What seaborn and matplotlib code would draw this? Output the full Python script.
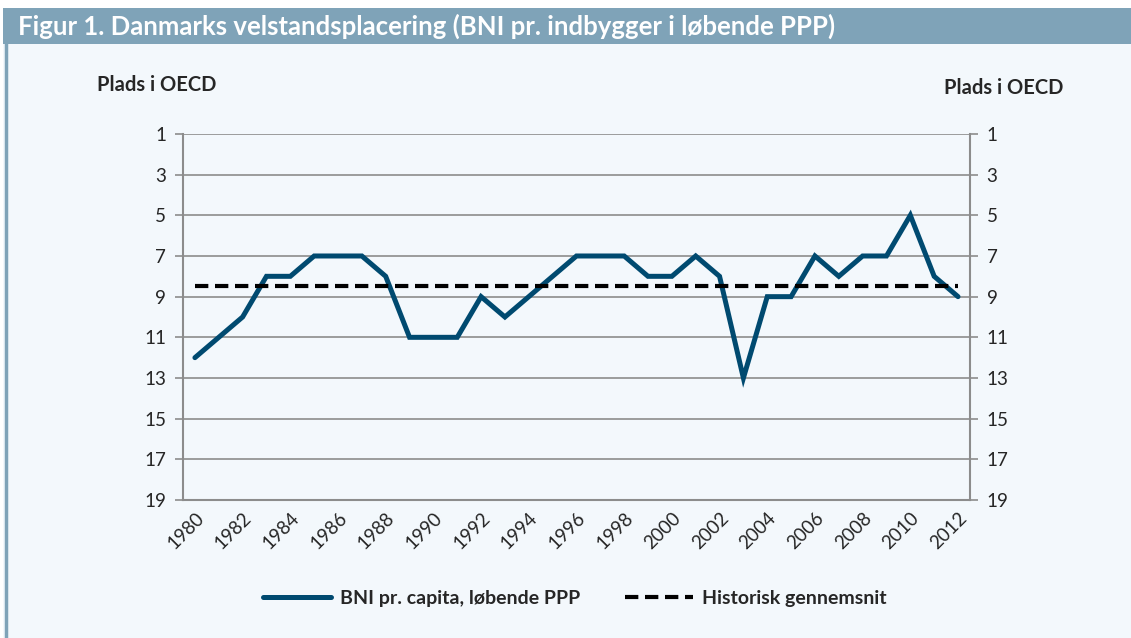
import matplotlib
matplotlib.use("Agg")
import matplotlib.pyplot as plt
from matplotlib.lines import Line2D
from matplotlib.patches import Rectangle
import pandas as pd
import seaborn as sns

# data
years = list(range(1980, 2013))
rank = [12, 11, 10, 8, 8, 7, 7, 7, 8, 11, 11, 11, 9, 10, 9, 8,
        7, 7, 7, 8, 8, 7, 8, 13, 9, 9, 7, 8, 7, 7, 5, 8, 9]
avg_rank = 8.5
yticks = [1, 3, 5, 7, 9, 11, 13, 15, 17, 19]
xticks = list(range(1980, 2013, 2))

title = "Figur 1. Danmarks velstandsplacering (BNI pr. indbygger i løbende PPP)"
ylabel = "Plads i OECD"
label_line = "BNI pr. capita, løbende PPP"
label_avg = "Historisk gennemsnit"

BAR = "#7fa3b8"
PANEL = "#f3f8fc"
LINE = "#004a70"
GRID = "#8c8c8c"

df = pd.DataFrame({"year": years, "rank": rank})

sns.set_theme(style="white")
plt.rcParams["font.family"] = ["Lato", "DejaVu Sans"]

fig = plt.figure(figsize=(11.31, 6.38), dpi=100)
fig.patch.set_facecolor("white")

# panel background + header bar
fig.add_artist(Rectangle((0.003, 0), 0.997, 0.932, transform=fig.transFigure,
                         facecolor=PANEL, edgecolor="none", zorder=-3))
fig.add_artist(Rectangle((0.003, 0.931), 0.997, 0.057, transform=fig.transFigure,
                         facecolor=BAR, edgecolor="none", zorder=-2))
fig.add_artist(Line2D([0.005, 0.005], [0, 0.94], transform=fig.transFigure,
                      color=BAR, lw=2.5, zorder=-1))
fig.text(0.016, 0.958, title, color="white", fontsize=18.5, fontweight="bold",
         va="center", ha="left")

ax = fig.add_axes([0.1618, 0.2163, 0.6958, 0.5737])
ax.set_facecolor(PANEL)

sns.lineplot(data=df, x="year", y="rank", ax=ax, color=LINE, lw=3.6,
             solid_capstyle="round", solid_joinstyle="miter")
ax.hlines(avg_rank, years[0], years[-1], colors="black", lw=3,
          linestyles=(0, (3.2, 1.6)), zorder=3)

ax.set_xlim(1979.5, 2012.5)
ax.set_ylim(19, 1)
ax.set_yticks(yticks)
ax.set_xticks(xticks)
ax.set_xticklabels([str(y) for y in xticks], rotation=45, ha="right",
                   rotation_mode="anchor", fontsize=13.5)
ax.set_xlabel("")
ax.set_ylabel("")
ax.yaxis.grid(True, color=GRID, lw=1.2)
ax.set_axisbelow(True)

for side in ["left", "right", "bottom"]:
    ax.spines[side].set_color(GRID)
    ax.spines[side].set_linewidth(1.5)
ax.spines["top"].set_visible(False)

ax.tick_params(axis="y", which="both", left=True, right=True, labelleft=True,
               labelright=True, length=6, width=1.2, color=GRID,
               labelsize=13.5, pad=6)
ax.tick_params(axis="x", length=0, pad=7)

fig.text(0.086, 0.866, ylabel, fontsize=14.5, fontweight="bold", ha="left", va="center")
fig.text(0.940, 0.862, ylabel, fontsize=14.5, fontweight="bold", ha="right", va="center")

handles = [Line2D([], [], color=LINE, lw=3.6, solid_capstyle="round"),
           Line2D([], [], color="black", lw=3, linestyle=(0, (3.2, 1.6)))]
leg = fig.legend(handles, [label_line, label_avg], loc="center",
                 bbox_to_anchor=(0.508, 0.062), ncol=2, frameon=False,
                 handlelength=3.5, columnspacing=2.3, handletextpad=0.45,
                 prop={"weight": "bold", "size": 14})

fig.savefig("out.png", dpi=100, facecolor=fig.get_facecolor())
